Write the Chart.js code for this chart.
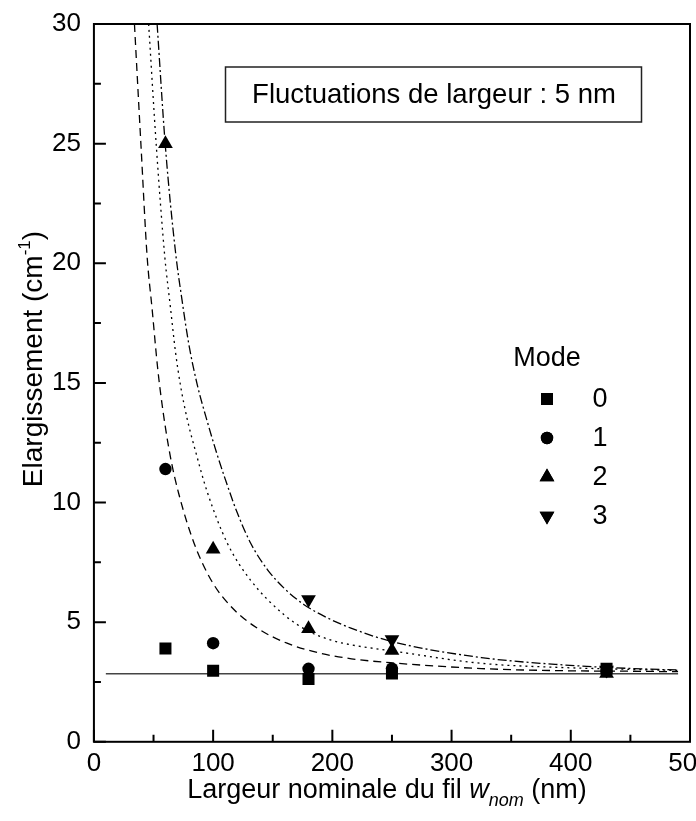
<!DOCTYPE html>
<html>
<head>
<meta charset="utf-8">
<script src="https://cdn.jsdelivr.net/npm/chart.js@4.4.1/dist/chart.umd.min.js"></script>
<style>
  html, body { margin: 0; padding: 0; background: #fff; overflow: hidden; }
  #wrap { width: 696px; height: 821px; overflow: hidden; position: relative; }
  canvas { display: block; }
</style>
</head>
<body>
<div id="wrap"><canvas id="chart" width="720" height="821"></canvas></div>
<script>
// --------------------------
// data
// --------------------------
const widths = [60, 100, 180, 250, 430];
const mode0 = [3.9, 2.97, 2.62, 2.86, 3.05];
const mode1 = [11.4, 4.12, 3.05, 3.06, 2.95];
const mode2 = [25.0, 8.05, 4.72, 3.82, 2.85];
const mode3 = [null, null, 5.95, 4.28, 3.0];
const modeLabels = ["0", "1", "2", "3"];

// fitted curves (dashed, dotted, dash-dot)
const fitDashX = [34, 39.5, 44.6, 48.8, 53.5, 58, 64.2, 71, 84, 99, 116, 137, 162, 190, 216, 250, 325, 395, 448, 490];
const fitDashY = [30, 24.9, 20.3, 18.1, 15.6, 13.8, 11.9, 10.4, 8.3, 6.7, 5.6, 4.75, 4.12, 3.7, 3.47, 3.3, 3.06, 2.97, 2.95, 2.93];
const fitDotX = [45.9, 52.4, 59.4, 64.2, 68.4, 72.6, 78.2, 85.2, 95, 111.9, 131.5, 159.5, 179, 199, 216, 250, 325, 395, 448, 490];
const fitDotY = [30, 24.85, 20.3, 18.15, 16.3, 14.9, 13.5, 12.15, 10.45, 8.3, 6.75, 5.31, 4.65, 4.25, 4.05, 3.8, 3.28, 3.1, 3.03, 2.98];
const fitDashDotX = [53, 60, 68.6, 74, 79.6, 86.6, 95, 103.4, 110, 120, 131.5, 145.5, 159.5, 176.3, 195, 215.6, 250, 325, 395, 448, 490];
const fitDashDotY = [30, 24.85, 20.4, 18.43, 16.62, 14.94, 13.4, 12.0, 11.0, 9.6, 8.3, 7.2, 6.42, 5.73, 5.2, 4.75, 4.19, 3.52, 3.21, 3.07, 3.0];

// horizontal reference line
const baseX = [10, 490];
const baseY = [2.84, 2.84];

const xTicks = [0, 100, 200, 300, 400, 500];
const yTicks = [0, 5, 10, 15, 20, 25, 30];

const FONT = '"Liberation Sans", Arial, Helvetica, sans-serif';

function pts(xs, ys) {
  return xs.map((x, i) => ({ x, y: ys[i] })).filter(p => p.y !== null);
}

// --------------------------
// plugins: frame, inward ticks, titles, legend, label box
// --------------------------
const decorPlugin = {
  id: "decor",
  afterDraw(chart) {
    const { ctx, chartArea: a, scales } = chart;
    const x = scales.x, y = scales.y;
    ctx.save();

    // frame
    ctx.strokeStyle = "#000";
    ctx.lineWidth = 2;
    ctx.strokeRect(a.left, a.top, a.right - a.left, a.bottom - a.top);

    // inward ticks, major + minor
    ctx.beginPath();
    for (let i = 0; i < yTicks.length; i++) {
      const py = y.getPixelForValue(yTicks[i]);
      ctx.moveTo(a.left, py); ctx.lineTo(a.left + 12, py);
      if (i < yTicks.length - 1) {
        const pm = y.getPixelForValue((yTicks[i] + yTicks[i + 1]) / 2);
        ctx.moveTo(a.left, pm); ctx.lineTo(a.left + 7, pm);
      }
    }
    for (let i = 0; i < xTicks.length; i++) {
      const px = x.getPixelForValue(xTicks[i]);
      ctx.moveTo(px, a.bottom); ctx.lineTo(px, a.bottom - 12);
      if (i < xTicks.length - 1) {
        const pm = x.getPixelForValue((xTicks[i] + xTicks[i + 1]) / 2);
        ctx.moveTo(pm, a.bottom); ctx.lineTo(pm, a.bottom - 7);
      }
    }
    ctx.stroke();

    ctx.fillStyle = "#000";
    ctx.textBaseline = "alphabetic";

    // x title with italic w and subscript "nom"
    const parts = [
      { t: "Largeur nominale du fil ", f: `27px ${FONT}`, dy: 0 },
      { t: "w", f: `italic 27px ${FONT}`, dy: 0 },
      { t: "nom", f: `italic 18px ${FONT}`, dy: 8 },
      { t: " (nm)", f: `27px ${FONT}`, dy: 0 }
    ];
    let total = 0;
    parts.forEach(p => { ctx.font = p.f; p.w = ctx.measureText(p.t).width; total += p.w; });
    let cx = 387 - total / 2;
    parts.forEach(p => { ctx.font = p.f; ctx.fillText(p.t, cx, 798 + p.dy); cx += p.w; });

    // y title, rotated, with superscript -1
    const yparts = [
      { t: "Elargissement (cm", f: `28px ${FONT}`, dy: 0 },
      { t: "-1", f: `17px ${FONT}`, dy: -12 },
      { t: ")", f: `28px ${FONT}`, dy: 0 }
    ];
    let ytotal = 0;
    yparts.forEach(p => { ctx.font = p.f; p.w = ctx.measureText(p.t).width; ytotal += p.w; });
    ctx.save();
    ctx.translate(42, 359);
    ctx.rotate(-Math.PI / 2);
    let cy = -ytotal / 2;
    yparts.forEach(p => { ctx.font = p.f; ctx.fillText(p.t, cy, p.dy); cy += p.w; });
    ctx.restore();

    // label box
    ctx.lineWidth = 1.5;
    ctx.strokeStyle = "#222";
    ctx.strokeRect(225.5, 67, 416, 55);
    ctx.font = `27.5px ${FONT}`;
    ctx.textAlign = "center";
    ctx.textBaseline = "middle";
    ctx.fillText("Fluctuations de largeur : 5 nm", 434, 95);

    // legend
    ctx.font = `27px ${FONT}`;
    ctx.fillText("Mode", 547, 359);
    const styles = chart.data.datasets.filter(d => d.isMode);
    styles.forEach((d, i) => {
      const ly = 399 + i * 39;
      Chart.helpers.drawPoint(ctx, {
        pointStyle: d.pointStyle,
        radius: d.pointRadius,
        rotation: d.rotation || 0,
        borderWidth: 0
      }, 547, ly);
      ctx.fillStyle = "#000";
      ctx.fill();
      ctx.fillText(d.label, 600, ly + 1);
    });

    ctx.restore();
  }
};

// --------------------------
// chart
// --------------------------
function modeSet(label, ys, style, radius, rotation) {
  return {
    label,
    isMode: true,
    data: pts(widths, ys),
    showLine: false,
    pointStyle: style,
    pointRadius: radius,
    pointHoverRadius: radius,
    rotation: rotation || 0,
    backgroundColor: "#000",
    borderColor: "#000",
    borderWidth: 0,
    order: 0
  };
}

function curveSet(label, xs, ys, dash, color, width) {
  return {
    label,
    data: pts(xs, ys),
    showLine: true,
    pointRadius: 0,
    borderColor: color,
    borderWidth: width,
    borderDash: dash,
    cubicInterpolationMode: "monotone",
    fill: false,
    order: 1
  };
}

new Chart(document.getElementById("chart"), {
  type: "scatter",
  data: {
    datasets: [
      curveSet("base", baseX, baseY, [], "#444", 1.5),
      curveSet("fit dash", fitDashX, fitDashY, [8, 5], "#000", 1.3),
      curveSet("fit dot", fitDotX, fitDotY, [2, 4], "#000", 1.3),
      curveSet("fit dashdot", fitDashDotX, fitDashDotY, [9, 3, 2, 3], "#000", 1.3),
      modeSet(modeLabels[0], mode0, "rect", 8.5),
      modeSet(modeLabels[1], mode1, "circle", 6.2),
      modeSet(modeLabels[2], mode2, "triangle", 8.5),
      modeSet(modeLabels[3], mode3, "triangle", 8.5, 180)
    ]
  },
  options: {
    responsive: false,
    animation: false,
    devicePixelRatio: 1,
    layout: { padding: { left: 39, top: 24, right: 30, bottom: 36 } },
    plugins: { legend: { display: false }, tooltip: { enabled: false } },
    scales: {
      x: {
        type: "linear",
        min: 0,
        max: 500,
        afterBuildTicks: s => { s.ticks = xTicks.map(v => ({ value: v })); },
        ticks: { color: "#000", font: { family: FONT, size: 26 }, padding: 6, maxRotation: 0 },
        grid: { display: false, drawTicks: false },
        border: { display: false }
      },
      y: {
        type: "linear",
        min: 0,
        max: 30,
        afterBuildTicks: s => { s.ticks = yTicks.map(v => ({ value: v })); },
        afterFit: s => { s.paddingTop = 0; s.paddingBottom = 0; },
        ticks: { color: "#000", font: { family: FONT, size: 26 }, padding: 13 },
        grid: { display: false, drawTicks: false },
        border: { display: false }
      }
    }
  },
  plugins: [decorPlugin]
});
</script>
</body>
</html>
